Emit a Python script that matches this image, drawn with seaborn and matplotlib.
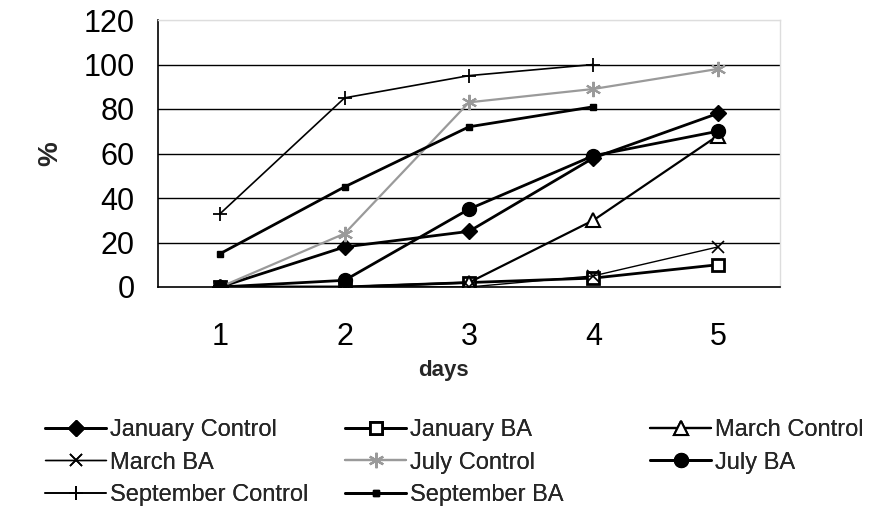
import matplotlib
matplotlib.use("Agg")
import matplotlib.pyplot as plt
import seaborn as sns
import pandas as pd

days = [1, 2, 3, 4, 5]
jan_control = [0, 18, 25, 58, 78]
jan_ba = [0, 0, 2, 4, 10]
mar_control = [0, 0, 2, 30, 68]
mar_ba = [0, 0, 0, 5, 18]
jul_control = [0, 24, 83, 89, 98]
jul_ba = [0, 3, 35, 59, 70]
sep_control = [33, 85, 95, 100]
sep_ba = [15, 45, 72, 81]
y_ticks = [0, 20, 40, 60, 80, 100, 120]

series = [
    ("January Control", jan_control, dict(color="black", marker="D", ms=8, lw=2.0, mfc="black", mec="black")),
    ("January BA", jan_ba, dict(color="black", marker="s", ms=9, lw=2.0, mfc="white", mec="black", mew=2)),
    ("March Control", mar_control, dict(color="black", marker="^", ms=10, lw=1.6, mfc="white", mec="black", mew=1.5)),
    ("March BA", mar_ba, dict(color="black", marker="x", ms=8, lw=1.0, mec="black", mew=1.2)),
    ("July Control", jul_control, dict(color="#9a9a9a", marker=(6, 2, 0), ms=11, lw=1.6, mec="#9a9a9a", mew=1.5)),
    ("July BA", jul_ba, dict(color="black", marker="o", ms=10, lw=2.0, mfc="black", mec="black")),
    ("September Control", sep_control, dict(color="black", marker="+", ms=10, lw=1.2, mec="black", mew=1.3)),
    ("September BA", sep_ba, dict(color="black", marker="s", ms=4, lw=2.0, mfc="black", mec="black")),
]

sns.set_theme(style="white")
plt.rcParams["font.family"] = ["Liberation Sans", "DejaVu Sans"]

fig = plt.figure(figsize=(8.84, 5.07), dpi=100)
ax = fig.add_axes([158 / 884, 1 - 287 / 507, (780 - 158) / 884, (287 - 20) / 507])

handles = {}
for name, vals, st in series:
    df = pd.DataFrame({"day": days[: len(vals)], "pct": vals})
    sns.lineplot(data=df, x="day", y="pct", ax=ax, color=st["color"], lw=st["lw"],
                 marker=st["marker"], markersize=st["ms"],
                 markerfacecolor=st.get("mfc", st["color"]),
                 markeredgecolor=st.get("mec", st["color"]),
                 markeredgewidth=st.get("mew", 1.0), label=name, legend=False)
    handles[name] = ax.lines[-1]

ax.set_xlim(0.5, 5.5)
ax.set_ylim(0, 120)
ax.set_yticks(y_ticks)
ax.set_xticks(days)
ax.set_xticks([1.5, 2.5, 3.5, 4.5, 5.5], minor=True)
ax.tick_params(axis="x", which="major", length=0, labelsize=22, pad=25, colors="black")
ax.tick_params(axis="x", which="minor", length=7, width=1, color="black", direction="out")
ax.tick_params(axis="y", which="major", length=7, width=1, color="black", direction="out",
               labelsize=22, pad=10, colors="black")
for y in y_ticks[1:-1]:
    ax.axhline(y, color="black", lw=1.0, zorder=0)
ax.axhline(120, color="#c8c8c8", lw=1.5, zorder=0)
for s in ["left", "bottom"]:
    ax.spines[s].set_color("black")
    ax.spines[s].set_linewidth(1.2)
for s in ["top", "right"]:
    ax.spines[s].set_color("#dddddd")
    ax.spines[s].set_linewidth(1.0)

ax.set_ylabel("%", fontsize=20, fontweight="bold", labelpad=14)
ax.set_xlabel("days", fontsize=16, fontweight="bold", labelpad=6)
ax.xaxis.label.set_x((443 - 158) / 622)

columns = [
    (45, ["January Control", "March BA", "September Control"]),
    (345, ["January BA", "July Control", "September BA"]),
    (650, ["March Control", "July BA"]),
]
for x0, names in columns:
    leg = fig.legend([handles[n] for n in names], names, ncol=1, loc="upper left",
                     bbox_to_anchor=(x0 / 884, 1 - 419 / 507), frameon=False, fontsize=17,
                     handlelength=2.6, handletextpad=0.15, labelspacing=0.45,
                     borderpad=0, borderaxespad=0)
    fig.add_artist(leg)

fig.savefig("out.png", dpi=100)
